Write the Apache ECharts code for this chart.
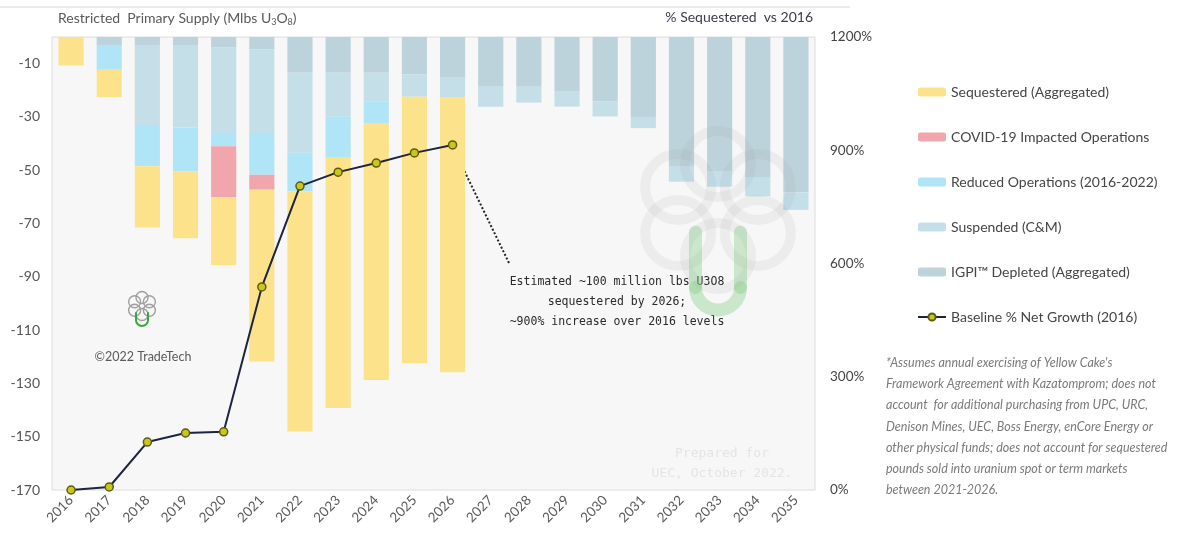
<!DOCTYPE html>
<html>
<head>
<meta charset="utf-8">
<script src="https://cdn.jsdelivr.net/npm/echarts@6/dist/echarts.min.js"></script>
<style>
  html, body { margin: 0; padding: 0; background: #fff; }
  #chart { width: 1191px; height: 556px; }
</style>
</head>
<body>
<div id="chart"></div>
<script>
var years = ['2016', '2017', '2018', '2019', '2020', '2021', '2022', '2023', '2024', '2025',
  '2026', '2027', '2028', '2029', '2030', '2031', '2032', '2033', '2034', '2035'];

// Mlbs U3O8, negative = restricted supply
var depleted = [0, -3, -3, -3, -4, -4.7, -13.4, -13.4, -13.4, -14, -15.3, -18.7, -18.7, -20.5, -24.2, -30, -48.7, -50.6, -52.8, -58.4];
var suspended = [0, 0, -30, -31, -32, -31.3, -30, -16.5, -10.9, -8.4, -7.5, -7.5, -5.9, -5.6, -5.6, -4.2, -5.6, -5.6, -7, -6.5];
var reduced = [0, -9.3, -15.5, -16.5, -5, -15.7, -14.6, -15.4, -8, 0, 0, 0, 0, 0, 0, 0, 0, 0, 0, 0];
var covid = [0, 0, 0, 0, -19, -5.6, 0, 0, 0, 0, 0, 0, 0, 0, 0, 0, 0, 0, 0, 0];
var sequestered = [-10.7, -10.3, -23, -25, -25.7, -64.5, -90, -93.9, -96.4, -100, -103, 0, 0, 0, 0, 0, 0, 0, 0, 0];

// % net growth vs 2016 (right axis)
var baseline = [0, 8, 127, 151, 154, 538, 805, 842, 866, 893, 914];

var leftTicks = [-170, 0, 10];   // min, max, interval
var rightTicks = [0, 1200, 300];

var footnote = [
  "*Assumes annual exercising of Yellow Cake's",
  'Framework Agreement with Kazatomprom; does not',
  'account  for additional purchasing from UPC, URC,',
  'Denison Mines, UEC, Boss Energy, enCore Energy or',
  'other physical funds; does not account for sequestered',
  'pounds sold into uranium spot or term markets',
  'between 2021-2026.'
];

var FONT = 'Lato, "Open Sans", sans-serif';
var chart = echarts.init(document.getElementById('chart'));

function barSeries(name, data, color) {
  return {
    name: name,
    type: 'bar',
    stack: 'supply',
    barWidth: '66%',
    data: data,
    itemStyle: { color: color },
    emphasis: { disabled: true }
  };
}

// logo built from a ring of circles + a U
function logo(cx, cy, ringR, r, width, grey, green, ux, uw, uTop, uBot, uWidth) {
  var els = [];
  for (var i = 0; i < 6; i++) {
    var a = Math.PI / 2 + i * Math.PI / 3;
    els.push({
      type: 'circle', z: 10,
      shape: { cx: cx + ringR * Math.cos(a), cy: cy - ringR * Math.sin(a), r: r },
      style: { fill: 'none', stroke: grey, lineWidth: width },
      silent: true
    });
  }
  var bot = uBot - uw / 2;
  var uStyle = { fill: 'none', stroke: green, lineWidth: uWidth, lineCap: 'round' };
  els.push({
    type: 'polyline', z: 10,
    shape: { points: [[ux - uw / 2, uTop], [ux - uw / 2, bot], [ux - uw / 2, bot]] }, style: uStyle, silent: true
  });
  els.push({
    type: 'polyline', z: 10,
    shape: { points: [[ux + uw / 2, uTop], [ux + uw / 2, bot]] }, style: uStyle, silent: true
  });
  els.push({
    type: 'arc', z: 10,
    shape: { cx: ux, cy: bot, r: uw / 2, startAngle: 0, endAngle: Math.PI, clockwise: true },
    style: uStyle, silent: true
  });
  return els;
}

var graphics = [
  { type: 'line', shape: { x1: 0, y1: 7, x2: 850, y2: 7 }, style: { stroke: '#e3e3e3', lineWidth: 1.5 }, silent: true },
  {
    type: 'text', x: 58, y: 10,
    style: {
      text: '{a|Restricted  Primary Supply (Mlbs U}{s|3}{a|O}{s|8}{a|)}',
      rich: {
        a: { fontSize: 14, fontFamily: FONT, fill: '#595959' },
        s: { fontSize: 9, fontFamily: FONT, fill: '#595959', padding: [8, 0, 0, 0] }
      }
    }
  },
  {
    type: 'text', x: 813, y: 10,
    style: { text: '% Sequestered  vs 2016', fontSize: 14, fontFamily: FONT, fill: '#3b3b4f', align: 'right' }
  },
  // annotation
  {
    type: 'line', shape: { x1: 461, y1: 164, x2: 509, y2: 263 },
    style: { stroke: '#222', lineWidth: 2, lineDash: [2, 2] }, silent: true
  },
  {
    type: 'text', x: 617, y: 272,
    style: {
      text: 'Estimated ~100 million lbs U3O8\nsequestered by 2026;\n~900% increase over 2016 levels',
      fontSize: 11.5, fontFamily: '"DejaVu Sans Mono", monospace', fill: '#2a2a2a',
      align: 'center', lineHeight: 20
    }
  },
  {
    type: 'text', x: 143, y: 350,
    style: { text: '\u00a92022 TradeTech', fontSize: 12.5, fontFamily: FONT, fill: '#5a5a5a', align: 'center' }
  },
  {
    type: 'text', x: 722, y: 444, z: 10,
    style: {
      text: 'Prepared for\nUEC, October 2022.', fontSize: 13, fontFamily: '"DejaVu Sans Mono", monospace',
      fill: '#e4e4e4', align: 'center', lineHeight: 20
    }
  },
  {
    type: 'text', x: 886, y: 352,
    style: {
      text: footnote.join('\n'), fontSize: 12.5, fontStyle: 'italic', fontFamily: FONT,
      fill: '#7a7a7a', lineHeight: 21.3
    }
  }
];
graphics = graphics.concat(
  logo(142, 306, 8.5, 6, 1.4, '#a0a0a0', '#3aa83a', 142, 12, 313, 326, 2),
  logo(718, 210, 46, 33, 10, 'rgba(150,150,150,0.1)', 'rgba(120,200,120,0.35)', 718, 45, 232, 310, 13)
);

var option = {
  backgroundColor: '#ffffff',
  animation: false,
  textStyle: { fontFamily: FONT },
  grid: {
    left: 52, right: 376, top: 37, bottom: 66,
    show: true, backgroundColor: '#f7f7f7', borderColor: '#dcdcdc', borderWidth: 1
  },
  legend: {
    orient: 'vertical',
    left: 912, top: 80,
    itemWidth: 28, itemHeight: 9, itemGap: 31,
    textStyle: { fontSize: 14, color: '#454545', fontFamily: FONT },
    data: [
      'Sequestered (Aggregated)',
      'COVID-19 Impacted Operations',
      'Reduced Operations (2016-2022)',
      'Suspended (C&M)',
      'IGPI\u2122 Depleted (Aggregated)',
      'Baseline % Net Growth (2016)'
    ]
  },
  xAxis: {
    type: 'category',
    data: years,
    axisLine: { show: false },
    axisTick: { show: false },
    axisLabel: { rotate: 45, fontSize: 13.5, color: '#5a5a5a', margin: 8 }
  },
  yAxis: [
    {
      type: 'value',
      min: leftTicks[0], max: leftTicks[1], interval: leftTicks[2],
      axisLine: { show: false },
      axisTick: { show: false },
      splitLine: { show: false },
      axisLabel: {
        fontSize: 14, color: '#555', margin: 12,
        formatter: function (v) { return v % 20 === 0 ? '' : String(v); }
      }
    },
    {
      type: 'value',
      position: 'right',
      min: rightTicks[0], max: rightTicks[1], interval: rightTicks[2],
      axisLine: { show: false },
      axisTick: { show: false },
      splitLine: { show: false },
      axisLabel: {
        fontSize: 13.5, color: '#444', margin: 15,
        formatter: function (v) { return v + '%'; }
      }
    }
  ],
  series: [
    barSeries('IGPI\u2122 Depleted (Aggregated)', depleted, '#bdd3dc'),
    barSeries('Suspended (C&M)', suspended, '#c5dfe9'),
    barSeries('Reduced Operations (2016-2022)', reduced, '#b0e5f7'),
    barSeries('COVID-19 Impacted Operations', covid, '#f1a6ad'),
    barSeries('Sequestered (Aggregated)', sequestered, '#fde28c'),
    {
      name: 'Baseline % Net Growth (2016)',
      type: 'line',
      yAxisIndex: 1,
      data: baseline,
      symbol: 'circle',
      symbolSize: 8,
      z: 5,
      lineStyle: { color: '#1d2440', width: 2 },
      itemStyle: { color: '#c9c71a', borderColor: '#5e5a10', borderWidth: 1.5 },
      emphasis: { disabled: true }
    }
  ],
  graphic: graphics
};

chart.setOption(option);
</script>
</body>
</html>
